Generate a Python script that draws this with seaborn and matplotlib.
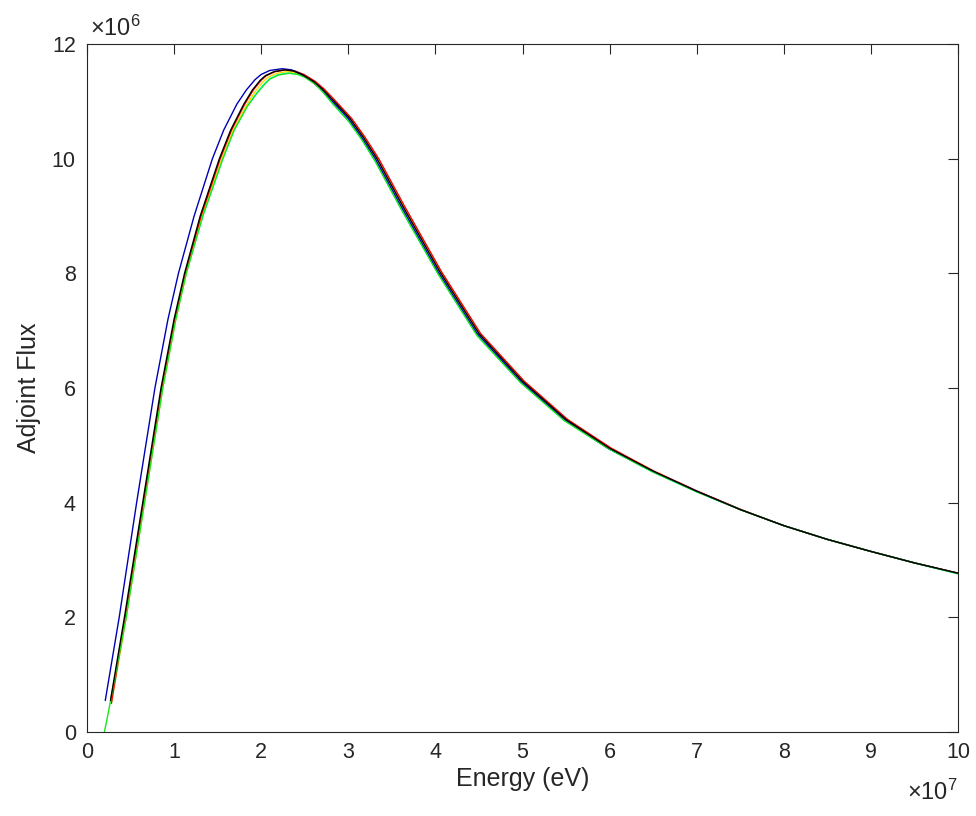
import pandas as pd
import matplotlib
matplotlib.use('Agg')
import matplotlib.pyplot as plt
from matplotlib.ticker import FuncFormatter
import seaborn as sns

# Energy in units of 1e7 eV, flux in units of 1e6
black_e = [0.27, 0.43, 0.64, 0.85, 1.00, 1.12, 1.30, 1.52, 1.65,
           1.80, 1.90, 1.99, 2.05, 2.15, 2.27, 2.37, 2.47, 2.60, 2.70, 2.82,
           3.02, 3.17, 3.33, 3.63, 4.05, 4.50, 5.00, 5.50, 6.00, 6.50, 7.00, 7.50, 8.00, 8.50, 9.00, 9.50, 10.0]
black_f = [0.55, 2.00, 4.00, 6.00, 7.20, 8.00, 9.00, 10.0, 10.5,
           10.95, 11.20, 11.37, 11.45, 11.52, 11.55, 11.53, 11.47, 11.35, 11.22, 11.03,
           10.70, 10.38, 10.0, 9.16, 8.03, 6.95, 6.12, 5.45, 4.95, 4.55, 4.20, 3.88, 3.60, 3.36, 3.15, 2.95, 2.77]

blue_e = [0.21, 0.37, 0.57, 0.78, 0.93, 1.05, 1.23, 1.44, 1.57,
          1.72, 1.83, 1.93, 2.00, 2.10, 2.24, 2.35, 2.45, 2.58, 2.68, 2.80,
          3.00, 3.15, 3.31, 3.61, 4.03, 4.48, 4.98, 5.48, 5.98, 6.49, 7.00, 7.50, 8.00, 8.50, 9.00, 9.50, 10.0]
blue_f = [0.55, 2.00, 4.00, 6.00, 7.20, 8.00, 9.00, 10.0, 10.5,
          10.95, 11.20, 11.38, 11.47, 11.54, 11.57, 11.55, 11.48, 11.35, 11.22, 11.03,
          10.70, 10.38, 10.0, 9.16, 8.03, 6.95, 6.12, 5.45, 4.95, 4.55, 4.20, 3.88, 3.60, 3.36, 3.15, 2.95, 2.77]

red_e = [0.28, 0.44, 0.65, 0.86, 1.01, 1.13, 1.31, 1.53, 1.66,
         1.81, 1.91, 2.00, 2.06, 2.16, 2.28, 2.39, 2.49, 2.62, 2.72, 2.84,
         3.04, 3.19, 3.35, 3.65, 4.07, 4.52, 5.02, 5.52, 6.02, 6.51, 7.01, 7.51, 8.00, 8.50, 9.00, 9.50, 10.0]
red_f = [0.50, 2.00, 4.00, 6.00, 7.20, 8.00, 9.00, 10.0, 10.5,
         10.95, 11.20, 11.37, 11.45, 11.52, 11.55, 11.53, 11.47, 11.35, 11.22, 11.03,
         10.70, 10.38, 10.0, 9.16, 8.03, 6.95, 6.12, 5.45, 4.95, 4.55, 4.20, 3.88, 3.60, 3.36, 3.15, 2.95, 2.77]

yellow_e = [0.28, 0.45, 0.66, 0.87, 1.02, 1.14, 1.32, 1.55, 1.68,
            1.83, 1.93, 2.02, 2.08, 2.18, 2.30, 2.40, 2.49, 2.62, 2.71, 2.83,
            3.03, 3.18, 3.34, 3.64, 4.06, 4.51, 5.01, 5.51, 6.01, 6.50, 7.00, 7.50, 8.00, 8.50, 9.00, 9.50, 10.0]
yellow_f = [0.50, 2.00, 4.00, 6.00, 7.20, 8.00, 9.00, 10.0, 10.5,
            10.93, 11.17, 11.34, 11.42, 11.49, 11.52, 11.50, 11.45, 11.33, 11.20, 11.01,
            10.68, 10.36, 9.98, 9.14, 8.02, 6.94, 6.11, 5.44, 4.95, 4.55, 4.20, 3.88, 3.60, 3.36, 3.15, 2.95, 2.77]

cyan_e = [0.28, 0.45, 0.66, 0.87, 1.02, 1.14, 1.33, 1.56, 1.69,
          1.84, 1.95, 2.04, 2.10, 2.20, 2.32, 2.42, 2.50, 2.62, 2.71, 2.82,
          3.01, 3.16, 3.31, 3.61, 4.03, 4.48, 4.98, 5.48, 5.99, 6.49, 7.00, 7.50, 8.00, 8.50, 9.00, 9.50, 10.0]
cyan_f = [0.50, 2.00, 4.00, 6.00, 7.20, 8.00, 9.00, 10.0, 10.5,
          10.92, 11.15, 11.31, 11.40, 11.47, 11.50, 11.48, 11.43, 11.31, 11.17, 10.97,
          10.65, 10.33, 9.96, 9.12, 8.00, 6.92, 6.10, 5.44, 4.94, 4.54, 4.19, 3.88, 3.60, 3.36, 3.15, 2.95, 2.76]

green_e = [0.20, 0.24, 0.28, 0.45, 0.66, 0.87, 1.02, 1.14, 1.33, 1.56, 1.69,
           1.84, 1.95, 2.04, 2.10, 2.20, 2.32, 2.42, 2.50, 2.62, 2.71, 2.82,
           3.01, 3.16, 3.31, 3.61, 4.03, 4.48, 4.98, 5.48, 5.99, 6.49, 7.00, 7.50, 8.00, 8.50, 9.00, 9.50, 10.0]
green_f = [0.00, 0.30, 0.62, 2.00, 4.00, 6.00, 7.20, 8.00, 9.00, 10.0, 10.5,
           10.91, 11.14, 11.30, 11.39, 11.46, 11.49, 11.47, 11.42, 11.30, 11.16, 10.96,
           10.64, 10.32, 9.95, 9.11, 7.99, 6.91, 6.09, 5.43, 4.94, 4.54, 4.19, 3.88, 3.60, 3.36, 3.15, 2.95, 2.76]

series = [
    ('cyan', cyan_e, cyan_f, (0.0, 1.0, 1.0)),
    ('yellow', yellow_e, yellow_f, (1.0, 0.85, 0.0)),
    ('red', red_e, red_f, (1.0, 0.0, 0.0)),
    ('blue', blue_e, blue_f, (0.0, 0.0, 0.7)),
    ('green', green_e, green_f, (0.1, 0.9, 0.1)),
    ('black', black_e, black_f, (0.0, 0.0, 0.0)),
]

frames = []
for name, e, f, _ in series:
    frames.append(pd.DataFrame({'energy': [v * 1e7 for v in e],
                                'flux': [v * 1e6 for v in f],
                                'run': name}))
df = pd.concat(frames, ignore_index=True)

sns.set_style('white')
plt.rcParams['font.family'] = ['Liberation Sans', 'DejaVu Sans']
plt.rcParams['mathtext.fontset'] = 'custom'
plt.rcParams['mathtext.rm'] = 'Liberation Sans'
plt.rcParams['mathtext.it'] = 'Liberation Sans'

fig = plt.figure(figsize=(9.76, 8.16), dpi=100)
ax = fig.add_axes([0.0891, 0.1029, 0.8925, 0.8431])

sns.lineplot(data=df, x='energy', y='flux', hue='run',
             hue_order=[s[0] for s in series],
             palette={s[0]: s[3] for s in series},
             estimator=None, sort=False, linewidth=1.0, legend=False, ax=ax)

dark = '#262626'
ax.set_xlim(0, 1e8)
ax.set_ylim(0, 1.2e7)
ax.set_xticks([i * 1e7 for i in range(11)])
ax.set_yticks([i * 2e6 for i in range(7)])
ax.xaxis.set_major_formatter(FuncFormatter(lambda v, p: f'{v / 1e7:g}'))
ax.yaxis.set_major_formatter(FuncFormatter(lambda v, p: f'{v / 1e6:g}'))
ax.tick_params(direction='in', length=7, width=0.8, colors=dark, labelsize=15.5,
               top=True, right=True)
ax.tick_params(axis='x', pad=7)
ax.tick_params(axis='y', pad=8)
for sp in ax.spines.values():
    sp.set_color(dark)
    sp.set_linewidth(0.8)

ax.text(0.004, 1.004, r'$\times10^{6}$', transform=ax.transAxes, ha='left', va='bottom',
        fontsize=17, color=dark)
ax.text(1.0, -0.07, r'$\times10^{7}$', transform=ax.transAxes, ha='right', va='top',
        fontsize=17, color=dark)

ax.set_xlabel('Energy (eV)', fontsize=18, color=dark, labelpad=3)
ax.set_ylabel('Adjoint Flux', fontsize=18, color=dark, labelpad=8)

fig.savefig('out.png', dpi=100, facecolor='white')
